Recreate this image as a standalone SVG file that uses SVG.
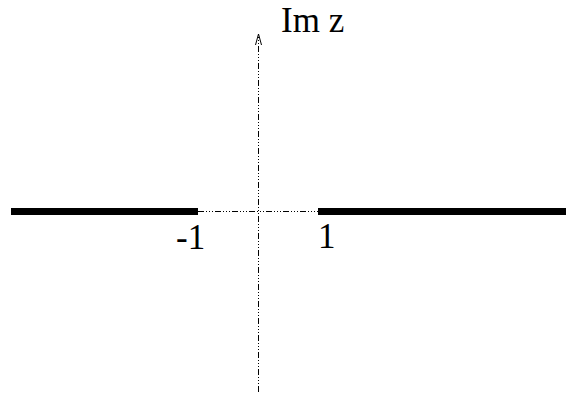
<svg xmlns="http://www.w3.org/2000/svg" width="566" height="393" viewBox="0 0 566 393">
<style>
.axis{stroke:#000;stroke-width:1;fill:none;stroke-dasharray:6 2 1 2 1 2 1 2}
.cut{stroke:#000;stroke-width:7;fill:none}
.lbl{font-family:'Liberation Serif','Times New Roman',Times,'DejaVu Serif',serif;font-size:35px;fill:#000}
</style>
<defs>
<marker id="ah" markerWidth="10" markerHeight="14" refX="5" refY="1" orient="0" markerUnits="userSpaceOnUse">
<path d="M2,12 L5,1 L8,12" fill="none" stroke="#000" stroke-width="1"/>
</marker>
</defs>
<g id="connectors">
<line class="axis" x1="198" y1="211.5" x2="318" y2="211.5"/>
<line class="axis" x1="258.5" y1="392" x2="258.5" y2="34" marker-end="url(#ah)"/>
</g>
<g id="cut-left"><line class="cut" x1="11" y1="211.5" x2="198" y2="211.5"/></g>
<g id="cut-right"><line class="cut" x1="318" y1="211.5" x2="566" y2="211.5"/></g>
<g id="label-imz"><text class="lbl" x="281" y="32">Im z</text></g>
<g id="label-m1"><text class="lbl" x="176" y="249">-1</text></g>
<g id="label-1"><text class="lbl" x="318" y="248">1</text></g>
</svg>
